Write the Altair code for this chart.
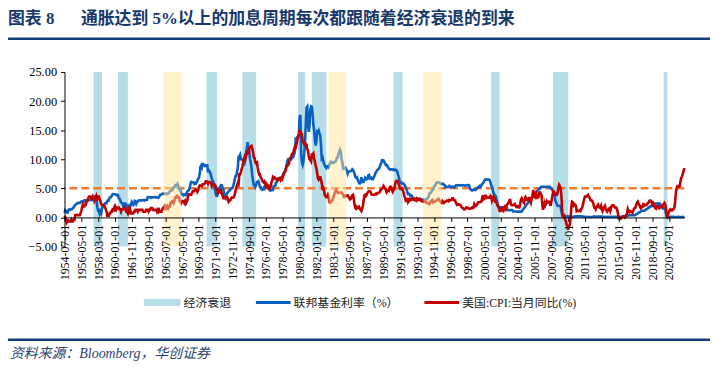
import altair as alt
import pandas as pd

# ---------------- data ----------------
fed_funds = [
    0.80, 1.22, 1.06, 0.85, 0.83, 1.28,                                  # 1954 Jul-Dec
    1.39, 1.29, 1.35, 1.43, 1.43, 1.64, 1.68, 1.96, 2.18, 2.24, 2.35, 2.48,  # 1955
    2.45, 2.50, 2.50, 2.62, 2.75, 2.71, 2.75, 2.73, 2.95, 2.96, 2.88, 2.94,  # 1956
    2.84, 3.00, 2.96, 3.00, 3.00, 3.00, 2.99, 3.24, 3.47, 3.50, 3.28, 2.98,  # 1957
    2.72, 1.67, 1.20, 1.26, 0.63, 0.93, 0.68, 1.53, 1.76, 1.80, 2.27, 2.42,  # 1958
    2.48, 2.43, 2.80, 2.96, 2.90, 3.39, 3.47, 3.50, 3.76, 3.98, 4.00, 3.99,  # 1959
    3.99, 3.97, 3.84, 3.92, 3.85, 3.32, 3.23, 2.98, 2.60, 2.47, 2.44, 1.98,  # 1960
    1.45, 2.54, 2.02, 1.49, 1.98, 1.73, 1.17, 2.00, 1.88, 2.26, 2.62, 2.33,  # 1961
    2.15, 2.37, 2.85, 2.78, 2.36, 2.68, 2.71, 2.93, 2.90, 2.90, 2.94, 2.93,  # 1962
    2.92, 3.00, 2.98, 2.90, 3.00, 2.99, 3.02, 3.49, 3.48, 3.50, 3.48, 3.38,  # 1963
    3.48, 3.48, 3.43, 3.47, 3.50, 3.50, 3.42, 3.50, 3.45, 3.36, 3.52, 3.85,  # 1964
    3.90, 3.98, 4.04, 4.09, 4.10, 4.04, 4.09, 4.12, 4.01, 4.08, 4.10, 4.32,  # 1965
    4.42, 4.60, 4.65, 4.67, 4.90, 5.17, 5.30, 5.53, 5.40, 5.53, 5.76, 5.40,  # 1966
    4.94, 5.00, 4.53, 4.05, 3.94, 3.98, 3.79, 3.90, 3.99, 3.88, 4.13, 4.51,  # 1967
    4.61, 4.71, 5.05, 5.76, 6.11, 6.07, 6.02, 6.03, 5.78, 5.91, 5.82, 6.02,  # 1968
    6.30, 6.64, 6.79, 7.41, 8.67, 8.90, 8.61, 9.19, 9.15, 9.00, 8.85, 8.97,  # 1969
    8.98, 8.98, 7.76, 8.10, 7.95, 7.61, 7.21, 6.61, 6.29, 6.20, 5.60, 4.90,  # 1970
    4.14, 3.72, 3.71, 4.16, 4.63, 4.91, 5.31, 5.56, 5.55, 5.20, 4.91, 4.14,  # 1971
    3.50, 3.29, 3.83, 4.17, 4.27, 4.46, 4.55, 4.80, 4.87, 5.04, 5.06, 5.33,  # 1972
    5.94, 6.58, 7.09, 7.12, 7.84, 8.49, 10.40, 10.50, 10.78, 10.01, 10.03, 9.95,  # 1973
    9.65, 8.97, 9.35, 10.51, 11.31, 11.93, 12.92, 12.01, 11.34, 10.06, 9.45, 8.53,  # 1974
    7.13, 6.24, 5.54, 5.49, 5.22, 5.55, 6.10, 6.14, 6.24, 5.82, 5.22, 5.20,  # 1975
    4.87, 4.77, 4.84, 4.82, 5.29, 5.48, 5.31, 5.29, 5.25, 5.02, 4.95, 4.65,  # 1976
    4.61, 4.68, 4.69, 4.73, 5.35, 5.39, 5.42, 5.90, 6.14, 6.47, 6.51, 6.56,  # 1977
    6.70, 6.78, 6.79, 6.89, 7.36, 7.60, 7.81, 8.04, 8.45, 8.96, 9.76, 10.03,  # 1978
    10.07, 10.06, 10.09, 10.01, 10.24, 10.29, 10.47, 10.94, 11.43, 13.77, 13.18, 13.78,  # 1979
    13.82, 14.13, 17.19, 17.61, 10.98, 9.47, 9.03, 9.61, 10.87, 12.81, 15.85, 18.90,  # 1980
    19.08, 15.93, 14.70, 15.72, 18.52, 19.10, 19.04, 17.82, 15.87, 15.08, 13.31, 12.37,  # 1981
    13.22, 14.78, 14.68, 14.94, 14.45, 14.15, 12.59, 10.12, 10.31, 9.71, 9.20, 8.95,  # 1982
    8.68, 8.51, 8.77, 8.80, 8.63, 8.98, 9.37, 9.56, 9.45, 9.48, 9.34, 9.47,  # 1983
    9.56, 9.59, 9.91, 10.29, 10.32, 11.06, 11.23, 11.64, 11.30, 9.99, 9.43, 8.38,  # 1984
    8.35, 8.50, 8.58, 8.27, 7.97, 7.53, 7.88, 7.90, 7.92, 7.99, 8.05, 8.27,  # 1985
    8.14, 7.86, 7.48, 6.99, 6.85, 6.92, 6.56, 6.17, 5.89, 5.85, 6.04, 6.91,  # 1986
    6.43, 6.10, 6.13, 6.37, 6.85, 6.73, 6.58, 6.73, 7.22, 7.29, 6.69, 6.77,  # 1987
    6.83, 6.58, 6.58, 6.87, 7.09, 7.51, 7.75, 8.01, 8.19, 8.30, 8.35, 8.76,  # 1988
    9.12, 9.36, 9.85, 9.84, 9.81, 9.53, 9.24, 8.99, 9.02, 8.84, 8.55, 8.45,  # 1989
    8.23, 8.24, 8.28, 8.26, 8.18, 8.29, 8.15, 8.13, 8.20, 8.11, 7.81, 7.31,  # 1990
    6.91, 6.25, 6.12, 5.91, 5.78, 5.90, 5.82, 5.66, 5.45, 5.21, 4.81, 4.43,  # 1991
    4.03, 4.06, 3.98, 3.73, 3.82, 3.76, 3.25, 3.30, 3.22, 3.10, 3.09, 2.92,  # 1992
    3.02, 3.03, 3.07, 2.96, 3.00, 3.04, 3.06, 3.03, 3.09, 2.99, 3.02, 2.96,  # 1993
    3.05, 3.25, 3.34, 3.56, 4.01, 4.25, 4.26, 4.47, 4.73, 4.76, 5.29, 5.45,  # 1994
    5.53, 5.92, 5.98, 6.05, 6.01, 6.00, 5.85, 5.74, 5.80, 5.76, 5.80, 5.60,  # 1995
    5.56, 5.22, 5.31, 5.22, 5.24, 5.27, 5.40, 5.22, 5.30, 5.24, 5.31, 5.29,  # 1996
    5.25, 5.19, 5.39, 5.51, 5.50, 5.56, 5.52, 5.54, 5.54, 5.50, 5.52, 5.50,  # 1997
    5.56, 5.51, 5.49, 5.45, 5.49, 5.56, 5.54, 5.55, 5.51, 5.07, 4.83, 4.68,  # 1998
    4.63, 4.76, 4.81, 4.74, 4.74, 4.76, 4.99, 5.07, 5.22, 5.20, 5.42, 5.30,  # 1999
    5.45, 5.73, 5.85, 6.02, 6.27, 6.53, 6.54, 6.50, 6.52, 6.51, 6.51, 6.40,  # 2000
    5.98, 5.49, 5.31, 4.80, 4.21, 3.97, 3.77, 3.65, 3.07, 2.49, 2.09, 1.82,  # 2001
    1.73, 1.74, 1.73, 1.75, 1.75, 1.75, 1.73, 1.74, 1.75, 1.75, 1.34, 1.24,  # 2002
    1.24, 1.26, 1.25, 1.26, 1.26, 1.22, 1.01, 1.03, 1.01, 1.01, 1.00, 0.98,  # 2003
    1.00, 1.01, 1.00, 1.00, 1.00, 1.03, 1.26, 1.43, 1.61, 1.76, 1.93, 2.16,  # 2004
    2.28, 2.50, 2.63, 2.79, 3.00, 3.04, 3.26, 3.50, 3.62, 3.78, 4.00, 4.16,  # 2005
    4.29, 4.49, 4.59, 4.79, 4.94, 4.99, 5.24, 5.25, 5.25, 5.25, 5.25, 5.24,  # 2006
    5.25, 5.26, 5.26, 5.25, 5.25, 5.25, 5.26, 5.02, 4.94, 4.76, 4.49, 4.24,  # 2007
    3.94, 2.98, 2.61, 2.28, 1.98, 2.00, 2.01, 2.00, 1.81, 0.97, 0.39, 0.16,  # 2008
    0.15, 0.22, 0.18, 0.15, 0.18, 0.21, 0.16, 0.16, 0.15, 0.12, 0.12, 0.12,  # 2009
    0.11, 0.13, 0.16, 0.20, 0.20, 0.18, 0.18, 0.19, 0.19, 0.19, 0.19, 0.18,  # 2010
    0.17, 0.16, 0.14, 0.10, 0.09, 0.09, 0.07, 0.10, 0.08, 0.07, 0.08, 0.07,  # 2011
    0.08, 0.10, 0.13, 0.14, 0.16, 0.16, 0.16, 0.13, 0.14, 0.16, 0.16, 0.16,  # 2012
    0.14, 0.15, 0.14, 0.15, 0.11, 0.09, 0.09, 0.08, 0.08, 0.09, 0.08, 0.09,  # 2013
    0.07, 0.07, 0.08, 0.09, 0.09, 0.10, 0.09, 0.09, 0.09, 0.09, 0.09, 0.12,  # 2014
    0.11, 0.11, 0.11, 0.12, 0.12, 0.13, 0.13, 0.14, 0.14, 0.12, 0.12, 0.24,  # 2015
    0.34, 0.38, 0.36, 0.37, 0.37, 0.38, 0.39, 0.40, 0.40, 0.40, 0.41, 0.54,  # 2016
    0.65, 0.66, 0.79, 0.90, 0.91, 1.04, 1.15, 1.16, 1.15, 1.15, 1.16, 1.30,  # 2017
    1.41, 1.42, 1.51, 1.69, 1.70, 1.82, 1.91, 1.91, 1.95, 2.19, 2.20, 2.27,  # 2018
    2.40, 2.40, 2.41, 2.42, 2.38, 2.40, 2.40, 2.13, 2.04, 1.83, 1.55, 1.55,  # 2019
    1.55, 1.58, 0.65, 0.05, 0.05, 0.08, 0.09, 0.10, 0.09, 0.09, 0.09, 0.09,  # 2020
    0.09, 0.08, 0.07, 0.07, 0.06, 0.08, 0.10, 0.09, 0.08, 0.08, 0.08, 0.08,  # 2021
    0.08, 0.08, 0.20,                                                    # 2022 Jan-Mar
]

cpi_yoy = [
    0.3, 0.0, -0.3, -0.8, -0.5, -0.5,                                   # 1954 Jul-Dec
    -0.7, -0.7, -0.7, -0.4, -0.7, -0.7, -0.4, -0.4, 0.4, 0.4, 0.4, 0.4,  # 1955
    0.4, 0.4, 0.4, 0.7, 1.1, 1.8, 2.2, 1.9, 1.9, 2.2, 2.2, 2.9,          # 1956
    2.9, 3.3, 3.6, 3.6, 3.6, 3.3, 3.3, 3.6, 3.3, 2.9, 3.3, 2.9,          # 1957
    3.6, 3.2, 3.6, 3.6, 3.2, 2.8, 2.4, 2.1, 2.1, 2.1, 2.1, 1.8,          # 1958
    1.4, 1.0, 0.3, 0.3, 0.3, 0.7, 0.7, 1.0, 1.0, 1.4, 1.4, 1.7,          # 1959
    1.0, 1.7, 1.4, 1.7, 1.7, 1.7, 1.4, 1.4, 1.0, 1.4, 1.4, 1.4,          # 1960
    1.7, 1.4, 1.4, 1.0, 1.0, 0.7, 1.3, 1.0, 1.3, 0.7, 0.7, 0.7,          # 1961
    0.7, 1.0, 1.0, 1.3, 1.3, 1.3, 1.0, 1.3, 1.3, 1.3, 1.3, 1.3,          # 1962
    1.3, 1.0, 1.0, 1.0, 1.0, 1.3, 1.3, 1.3, 1.0, 1.3, 1.3, 1.6,          # 1963
    1.6, 1.6, 1.3, 1.3, 1.3, 1.3, 1.3, 1.0, 1.3, 1.0, 1.3, 1.0,          # 1964
    1.0, 1.0, 1.3, 1.6, 1.6, 1.9, 1.6, 1.9, 1.6, 1.9, 1.6, 1.9,          # 1965
    1.9, 2.5, 2.5, 2.8, 2.8, 2.5, 2.8, 3.4, 3.4, 3.7, 3.7, 3.4,          # 1966
    3.4, 2.8, 2.8, 2.5, 2.8, 2.8, 2.8, 2.5, 2.8, 2.4, 2.7, 3.0,          # 1967
    3.7, 4.0, 4.0, 3.9, 3.9, 4.2, 4.5, 4.5, 4.5, 4.8, 4.8, 4.7,          # 1968
    4.4, 4.7, 5.2, 5.5, 5.5, 5.5, 5.4, 5.7, 5.7, 5.7, 5.9, 6.2,          # 1969
    6.2, 6.1, 5.8, 6.1, 6.1, 6.0, 6.0, 5.4, 5.7, 5.6, 5.6, 5.6,          # 1970
    5.3, 5.0, 4.7, 4.2, 4.4, 4.6, 4.4, 4.6, 4.1, 3.8, 3.3, 3.3,          # 1971
    3.3, 3.5, 3.5, 3.5, 3.2, 2.7, 2.9, 2.9, 3.2, 3.4, 3.4, 3.4,          # 1972
    3.6, 3.9, 4.6, 5.1, 5.5, 5.9, 5.7, 7.4, 7.4, 7.8, 8.3, 8.7,          # 1973
    9.4, 10.0, 10.4, 10.1, 10.7, 10.9, 11.5, 10.9, 11.9, 12.1, 12.2, 12.3,  # 1974
    11.8, 11.2, 10.3, 10.2, 9.5, 9.3, 9.7, 8.6, 7.9, 7.4, 7.4, 6.9,      # 1975
    6.7, 6.3, 6.1, 6.0, 6.2, 6.0, 5.4, 5.7, 5.5, 5.5, 4.9, 4.9,          # 1976
    5.2, 6.0, 6.4, 6.9, 6.7, 6.9, 6.8, 6.6, 6.6, 6.4, 6.7, 6.7,          # 1977
    6.8, 6.4, 6.6, 6.5, 6.9, 7.4, 7.7, 7.8, 8.3, 8.9, 8.9, 9.0,          # 1978
    9.3, 9.9, 10.1, 10.5, 10.9, 10.9, 11.3, 11.8, 12.2, 12.1, 12.6, 13.3,  # 1979
    13.9, 14.2, 14.8, 14.7, 14.4, 14.4, 13.1, 12.9, 12.6, 12.8, 12.6, 12.5,  # 1980
    11.8, 11.4, 10.5, 10.0, 9.8, 9.6, 10.8, 10.8, 11.0, 10.1, 9.6, 8.9,  # 1981
    8.4, 7.6, 6.8, 6.5, 6.7, 7.1, 6.4, 5.9, 5.0, 5.1, 4.6, 3.8,          # 1982
    3.7, 3.5, 3.6, 3.9, 3.5, 2.6, 2.5, 2.6, 2.9, 2.9, 3.3, 3.8,          # 1983
    4.2, 4.6, 4.8, 4.6, 4.2, 4.2, 4.2, 4.3, 4.3, 4.3, 4.1, 3.9,          # 1984
    3.5, 3.5, 3.7, 3.7, 3.8, 3.8, 3.6, 3.3, 3.1, 3.2, 3.5, 3.8,          # 1985
    3.9, 3.1, 2.2, 1.6, 1.5, 1.8, 1.6, 1.6, 1.8, 1.5, 1.3, 1.1,          # 1986
    1.5, 2.1, 3.0, 3.8, 3.9, 3.7, 3.9, 4.3, 4.4, 4.5, 4.5, 4.4,          # 1987
    4.0, 3.9, 3.9, 3.9, 3.9, 4.0, 4.1, 4.0, 4.2, 4.2, 4.2, 4.4,          # 1988
    4.7, 4.8, 5.0, 5.1, 5.4, 5.2, 5.0, 4.7, 4.3, 4.5, 4.7, 4.6,          # 1989
    5.2, 5.3, 5.2, 4.7, 4.4, 4.7, 4.8, 5.6, 6.2, 6.3, 6.3, 6.1,          # 1990
    5.7, 5.3, 4.9, 4.9, 5.0, 4.7, 4.4, 3.8, 3.4, 2.9, 3.0, 3.1,          # 1991
    2.6, 2.8, 3.2, 3.2, 3.0, 3.1, 3.2, 3.1, 3.0, 3.2, 3.0, 2.9,          # 1992
    3.3, 3.2, 3.1, 3.2, 3.2, 3.0, 2.8, 2.8, 2.7, 2.8, 2.7, 2.7,          # 1993
    2.5, 2.5, 2.5, 2.4, 2.3, 2.5, 2.8, 2.9, 3.0, 2.6, 2.7, 2.7,          # 1994
    2.8, 2.9, 2.9, 3.1, 3.2, 3.0, 2.8, 2.6, 2.5, 2.8, 2.6, 2.5,          # 1995
    2.7, 2.7, 2.8, 2.9, 2.9, 2.8, 3.0, 2.9, 3.0, 3.0, 3.3, 3.3,          # 1996
    3.0, 3.0, 2.8, 2.5, 2.2, 2.3, 2.2, 2.2, 2.2, 2.1, 1.8, 1.7,          # 1997
    1.6, 1.4, 1.4, 1.4, 1.7, 1.7, 1.7, 1.6, 1.5, 1.5, 1.5, 1.6,          # 1998
    1.7, 1.6, 1.7, 2.3, 2.1, 2.0, 2.1, 2.3, 2.6, 2.6, 2.6, 2.7,          # 1999
    2.7, 3.2, 3.8, 3.1, 3.2, 3.7, 3.7, 3.4, 3.5, 3.4, 3.4, 3.4,          # 2000
    3.7, 3.5, 2.9, 3.3, 3.6, 3.2, 2.7, 2.7, 2.6, 2.1, 1.9, 1.6,          # 2001
    1.1, 1.1, 1.5, 1.6, 1.2, 1.1, 1.5, 1.8, 1.5, 2.0, 2.2, 2.4,          # 2002
    2.6, 3.0, 3.0, 2.2, 2.1, 2.1, 2.1, 2.2, 2.3, 2.0, 1.8, 1.9,          # 2003
    1.9, 1.7, 1.7, 2.3, 3.1, 3.3, 3.0, 2.7, 2.5, 3.2, 3.5, 3.3,          # 2004
    3.0, 3.0, 3.1, 3.5, 2.8, 2.5, 3.2, 3.6, 4.7, 4.3, 3.5, 3.4,          # 2005
    4.0, 3.6, 3.4, 3.5, 4.2, 4.3, 4.1, 3.8, 2.1, 1.3, 2.0, 2.5,          # 2006
    2.1, 2.4, 2.8, 2.6, 2.7, 2.7, 2.4, 2.0, 2.8, 3.5, 4.3, 4.1,          # 2007
    4.3, 4.0, 4.0, 3.9, 4.2, 5.0, 5.6, 5.4, 4.9, 3.7, 1.1, 0.1,          # 2008
    0.0, 0.2, -0.4, -0.7, -1.3, -1.4, -2.1, -1.5, -1.3, -0.2, 1.8, 2.7,  # 2009
    2.6, 2.1, 2.3, 2.2, 2.0, 1.1, 1.2, 1.1, 1.1, 1.2, 1.1, 1.5,          # 2010
    1.6, 2.1, 2.7, 3.2, 3.6, 3.6, 3.6, 3.8, 3.9, 3.5, 3.4, 3.0,          # 2011
    2.9, 2.9, 2.7, 2.3, 1.7, 1.7, 1.4, 1.7, 2.0, 2.2, 1.8, 1.7,          # 2012
    1.6, 2.0, 1.5, 1.1, 1.4, 1.8, 2.0, 1.5, 1.2, 1.0, 1.2, 1.5,          # 2013
    1.6, 1.1, 1.5, 2.0, 2.1, 2.1, 2.0, 1.7, 1.7, 1.7, 1.3, 0.8,          # 2014
    -0.1, 0.0, -0.1, -0.2, 0.0, 0.1, 0.2, 0.2, 0.0, 0.2, 0.5, 0.7,       # 2015
    1.4, 1.0, 0.9, 1.1, 1.0, 1.0, 0.8, 1.1, 1.5, 1.6, 1.7, 2.1,          # 2016
    2.5, 2.7, 2.4, 2.2, 1.9, 1.6, 1.7, 1.9, 2.2, 2.0, 2.2, 2.1,          # 2017
    2.1, 2.2, 2.4, 2.5, 2.8, 2.9, 2.9, 2.7, 2.3, 2.5, 2.2, 1.9,          # 2018
    1.6, 1.5, 1.9, 2.0, 1.8, 1.6, 1.8, 1.7, 1.7, 1.8, 2.1, 2.3,          # 2019
    2.5, 2.3, 1.5, 0.3, 0.1, 0.6, 1.0, 1.3, 1.4, 1.2, 1.2, 1.4,          # 2020
    1.4, 1.7, 2.6, 4.2, 5.0, 5.4, 5.4, 5.3, 5.4, 6.2, 6.8, 7.0,          # 2021
    7.5, 7.9, 8.5,                                                       # 2022 Jan-Mar
]

months = pd.date_range("1954-07-01", "2022-03-01", freq="MS").strftime("%Y-%m-%d").tolist()

recession_start = ["1957-09-01", "1960-05-01", "1970-01-01", "1973-12-01", "1980-01-01",
                   "1981-07-01", "1990-06-01", "2001-02-01", "2007-11-01", "2019-12-01"]
recession_end = ["1958-08-01", "1961-06-01", "1971-03-01", "1975-06-01", "1980-10-01",
                 "1983-02-01", "1991-06-01", "2002-01-01", "2009-07-01", "2020-05-01"]
soft_start = ["1965-05-01", "1983-05-01", "1993-09-01"]
soft_end = ["1967-04-01", "1985-04-01", "1995-09-01"]

tick_labels = ["1954-07-01", "1956-05-01", "1958-03-01", "1960-01-01", "1961-11-01", "1963-09-01",
               "1965-07-01", "1967-05-01", "1969-03-01", "1971-01-01", "1972-11-01", "1974-09-01",
               "1976-07-01", "1978-05-01", "1980-03-01", "1982-01-01", "1983-11-01", "1985-09-01",
               "1987-07-01", "1989-05-01", "1991-03-01", "1993-01-01", "1994-11-01", "1996-09-01",
               "1998-07-01", "2000-05-01", "2002-03-01", "2004-01-01", "2005-11-01", "2007-09-01",
               "2009-07-01", "2011-05-01", "2013-03-01", "2015-01-01", "2016-11-01", "2018-09-01",
               "2020-07-01"]
y_ticks = [-5, 0, 5, 10, 15, 20, 25]
threshold = 5

legend_labels = ["经济衰退", "联邦基金利率（%）", "美国:CPI:当月同比(%)"]
title_no = "图表 8"
title_text = "通胀达到 5%以上的加息周期每次都跟随着经济衰退的到来"
source_text = "资料来源：Bloomberg，华创证券"

# ---------------- styling ----------------
BLUE = "#0a60c0"
RED = "#c00000"
ORANGE = "#ed7d31"
BAND_BLUE = "#b7dde8"
BAND_YELLOW = "#ffe599"
NAVY = "#17386b"
SERIF = "Liberation Serif, Noto Sans CJK SC"
W, H = 625, 176


def ms(s):
    """UTC timestamp in milliseconds for an ISO date string."""
    return int(pd.Timestamp(s, tz="UTC").value // 10**6)


x_scale = alt.Scale(type="utc", domain=[ms(months[0]), ms(months[-1])], nice=False)
y_scale = alt.Scale(domain=[y_ticks[0], y_ticks[-1]], nice=False, zero=False)

# identical axis objects on every layer so that they merge into one shared axis
x_axis = alt.Axis(
    title=None, values=[ms(s) for s in tick_labels], format="%Y-%m-%d",
    labelAngle=270, labelFont="Liberation Serif", labelFontSize=12, labelColor="#000",
    labelPadding=3, labelOverlap=False, labelFlush=False, labelBound=False,
    domainColor="#000", domainWidth=1, tickColor="#000", tickSize=4, grid=False,
    offset=-H * (0 - y_ticks[0]) / (y_ticks[-1] - y_ticks[0]), zindex=1,
)
y_axis = alt.Axis(
    title=None, values=y_ticks, format=".2f", labelFont="Liberation Serif",
    labelFontSize=12.5, labelColor="#000", labelPadding=4, domainColor="#000",
    tickColor="#000", tickSize=4, grid=False, zindex=1,
)

series = pd.DataFrame({"date": months, "fed": fed_funds, "cpi": cpi_yoy})
rec = pd.DataFrame({"start": recession_start, "end": recession_end,
                    "top": y_ticks[-1], "bottom": y_ticks[0]})
soft = pd.DataFrame({"start": soft_start, "end": soft_end,
                     "top": y_ticks[-1], "bottom": y_ticks[0]})

rec_layer = alt.Chart(rec).mark_rect(color=BAND_BLUE).encode(
    x=alt.X("start:T", scale=x_scale, axis=x_axis), x2="end:T",
    y=alt.Y("top:Q", scale=y_scale, axis=y_axis), y2="bottom:Q",
)
soft_layer = alt.Chart(soft).mark_rect(color=BAND_YELLOW, opacity=0.5).encode(
    x=alt.X("start:T", scale=x_scale, axis=x_axis), x2="end:T",
    y=alt.Y("top:Q", scale=y_scale, axis=y_axis), y2="bottom:Q",
)
thr_layer = alt.Chart(pd.DataFrame({"v": [threshold]})).mark_rule(
    color=ORANGE, strokeWidth=2.5, strokeDash=[8, 4]
).encode(y=alt.Y("v:Q", scale=y_scale, axis=y_axis))

fed_layer = alt.Chart(series).mark_line(color=BLUE, strokeWidth=2.6).encode(
    x=alt.X("date:T", scale=x_scale, axis=x_axis),
    y=alt.Y("fed:Q", scale=y_scale, axis=y_axis),
)
cpi_layer = alt.Chart(series).mark_line(color=RED, strokeWidth=2.6).encode(
    x=alt.X("date:T", scale=x_scale, axis=x_axis),
    y=alt.Y("cpi:Q", scale=y_scale, axis=y_axis),
)

# ---------------- decorations (title, rules, legend, source) ----------------
one = pd.DataFrame({"a": [0]})


def text_layer(txt, x, y, size, color, weight="normal", style="normal", font=SERIF):
    return alt.Chart(pd.DataFrame({"t": [txt]})).mark_text(
        align="left", baseline="middle", font=font, fontSize=size, color=color,
        fontWeight=weight, fontStyle=style,
    ).encode(x=alt.value(x), y=alt.value(y), text="t:N")


title1 = text_layer(title_no, -57, -53, 17, NAVY, weight="bold")
title2 = text_layer(title_text, 16.5, -53, 17, NAVY, weight="bold")
top_rule = alt.Chart(one).mark_rule(color="#123d7a", strokeWidth=2.5).encode(
    x=alt.value(-58), x2=alt.value(651), y=alt.value(-33.5))
bottom_rule = alt.Chart(one).mark_rule(color="#123d7a", strokeWidth=2.5).encode(
    x=alt.value(-58), x2=alt.value(651), y=alt.value(270))
source = text_layer(source_text, -55, 284, 14, "#2b4170", style="italic")

leg_y = 232.5
leg_rect = alt.Chart(one).mark_rect(color=BAND_BLUE).encode(
    x=alt.value(80), x2=alt.value(117), y=alt.value(leg_y - 3.5), y2=alt.value(leg_y + 3.5))
leg_blue = alt.Chart(one).mark_rule(color=BLUE, strokeWidth=3).encode(
    x=alt.value(193), x2=alt.value(228), y=alt.value(leg_y))
leg_red = alt.Chart(one).mark_rule(color=RED, strokeWidth=3).encode(
    x=alt.value(363), x2=alt.value(398), y=alt.value(leg_y))
leg_t1 = text_layer(legend_labels[0], 120, leg_y, 12, "#222")
leg_t2 = text_layer(legend_labels[1], 231, leg_y, 12, "#222")
leg_t3 = text_layer(legend_labels[2], 401, leg_y, 12, "#222")

chart = alt.layer(
    rec_layer, thr_layer, fed_layer, cpi_layer, soft_layer,
    title1, title2, top_rule, bottom_rule, source,
    leg_rect, leg_blue, leg_red, leg_t1, leg_t2, leg_t3,
).properties(
    width=W, height=H,
    autosize=alt.AutoSizeParams(type="none"),
    padding={"left": 57, "top": 63, "right": 30, "bottom": 125},
).configure_view(stroke=None)

chart.save("out.html", embed_options={"renderer": "svg", "actions": False})
